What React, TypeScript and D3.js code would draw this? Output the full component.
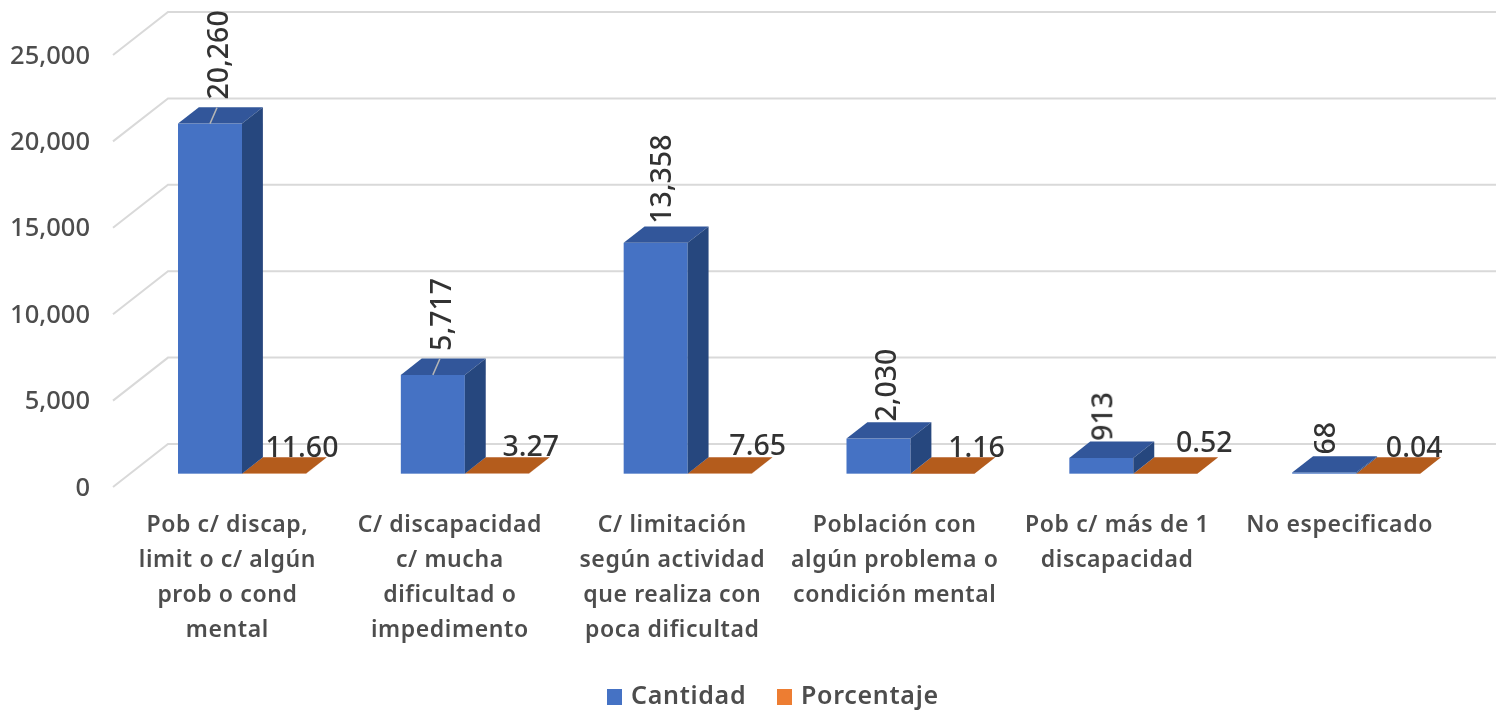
import { useEffect, useRef } from "react";
import * as d3 from "d3";

const categories = [
  ["Pob c/ discap,", "limit o c/ algún", "prob o cond", "mental"],
  ["C/ discapacidad", "c/ mucha", "dificultad o", "impedimento"],
  ["C/ limitación", "según actividad", "que realiza con", "poca dificultad"],
  ["Población con", "algún problema o", "condición mental"],
  ["Pob c/ más de 1", "discapacidad"],
  ["No especificado"],
];
const cantidad = [20260, 5717, 13358, 2030, 913, 68];
const porcentaje = [11.6, 3.27, 7.65, 1.16, 0.52, 0.04];
const porcentajeLabels = ["11.60", "3.27", "7.65", "1.16", "0.52", "0.04"];
const yTicks = [0, 5000, 10000, 15000, 20000, 25000];
const seriesNames = ["Cantidad", "Porcentaje"];

// hand placed label offsets, same as the moved labels in the original chart
const blueNudge = [[4, -2], [4, -2], [1, 3], [3, 5], [-3, 5], [-3, 4]];
const orangeNudge = [[-7, 0], [-1, -1], [3, -2], [-1, 0], [4, -5], [-9, 0]];

const FONT = "'Noto Sans', sans-serif";

const App = () => {
  const svgRef = useRef<SVGSVGElement>(null);

  useEffect(() => {
    const w = 1496;
    const h = 711;
    const svg = d3.select(svgRef.current);
    svg.selectAll("*").remove();
    svg.attr("width", w).attr("height", h);

    // the source is a scaled up screenshot, a little blur gets the same look
    svg
      .append("defs")
      .append("filter")
      .attr("id", "soft")
      .append("feGaussianBlur")
      .attr("stdDeviation", 0.7);

    const root = svg.append("g").attr("filter", "url(#soft)");

    // scales
    const yScale = d3.scaleLinear().domain([0, 25000]).range([487, 55]);
    const xScale = d3
      .scaleBand<number>()
      .domain(d3.range(categories.length))
      .range([116, 1453]);
    const seriesScale = d3
      .scaleBand<string>()
      .domain(seriesNames)
      .range([0, 128]);
    const barOffset = 62;

    // 3d floor depth
    const depthX = 55;
    const depthY = 43;
    const frontD = 0.31;
    const backD = 0.69;

    const colors = {
      Cantidad: { front: "#4472c4", top: "#30569a", side: "#28477e" },
      Porcentaje: { front: "#ed7d31", top: "#b45b1f", side: "#ae5a21" },
    };

    // grid
    const grid = root.append("g");
    yTicks.forEach((t) => {
      const y = yScale(t);
      grid
        .append("path")
        .attr("d", `M113,${y}L${113 + depthX},${y - depthY}L${w},${y - depthY}`)
        .attr("fill", "none")
        .attr("stroke", "#d9d9d9")
        .attr("stroke-width", 2);
    });

    // y axis, only the labels are shown
    const yAxis = d3
      .axisLeft(yScale)
      .tickValues(yTicks)
      .tickFormat((d) => d3.format(",")(d as number))
      .tickSize(0)
      .tickPadding(0);
    const axisG = root.append("g").attr("transform", "translate(90,0)").call(yAxis);
    axisG.select(".domain").remove();
    axisG
      .selectAll("text")
      .attr("font-family", FONT)
      .attr("font-size", 25.5)
      .attr("font-weight", 500)
      .attr("fill", "#4d4d4d");

    const drawBar = (x0: number, value: number, name: string) => {
      const c = colors[name as keyof typeof colors];
      const bw = seriesScale.bandwidth();
      const dx = (backD - frontD) * depthX;
      const dy = (backD - frontD) * depthY;
      const bottom = yScale(0) - frontD * depthY;
      const top = yScale(value) - frontD * depthY;
      const g = root.append("g");
      g.append("rect")
        .attr("x", x0)
        .attr("y", top)
        .attr("width", bw)
        .attr("height", bottom - top)
        .attr("fill", c.front);
      g.append("path")
        .attr("d", `M${x0},${top}L${x0 + dx},${top - dy}L${x0 + bw + dx},${top - dy}L${x0 + bw},${top}Z`)
        .attr("fill", c.top);
      g.append("path")
        .attr("d", `M${x0 + bw},${top}L${x0 + bw + dx},${top - dy}L${x0 + bw + dx},${bottom - dy}L${x0 + bw},${bottom}Z`)
        .attr("fill", c.side);
      return top;
    };

    // bars and data labels
    categories.forEach((_, i) => {
      const band = (xScale(i) as number) + barOffset;
      const blueX = band + (seriesScale("Cantidad") as number);
      const orangeX = band + (seriesScale("Porcentaje") as number);

      const orangeTop = drawBar(orangeX, porcentaje[i], "Porcentaje");
      const blueTop = drawBar(blueX, cantidad[i], "Cantidad");

      // leader lines on the first two bars
      if (i < 2) {
        root
          .append("line")
          .attr("x1", blueX + 32)
          .attr("y1", blueTop)
          .attr("x2", blueX + 39)
          .attr("y2", blueTop - 16)
          .attr("stroke", "#b5b5b5")
          .attr("stroke-width", 1.5);
      }

      const [bx, by] = blueNudge[i];
      const lx = blueX + 36 + bx;
      const ly = blueTop - 22 + by;
      root
        .append("text")
        .attr("transform", `translate(${lx},${ly}) rotate(-90)`)
        .attr("dy", "0.36em")
        .attr("font-family", FONT)
        .attr("font-size", 28.5)
        .attr("font-weight", 500)
        .attr("fill", "#333333")
        .text(d3.format(",")(cantidad[i]));

      const [ox, oy] = orangeNudge[i];
      root
        .append("text")
        .attr("x", orangeX + 67 + ox)
        .attr("y", orangeTop - 16.5 + oy)
        .attr("text-anchor", "middle")
        .attr("font-family", FONT)
        .attr("font-size", 28.5)
        .attr("font-weight", 500)
        .attr("fill", "#333333")
        .text(porcentajeLabels[i]);

      // category label, slightly tighter spread than the bars
      const cx = (xScale(i) as number) + xScale.bandwidth() / 2 - i * 0.4;
      root
        .append("g")
        .selectAll("text")
        .data(categories[i])
        .join("text")
        .attr("x", cx)
        .attr("y", (_d, j) => 532 + j * 35)
        .attr("text-anchor", "middle")
        .attr("font-family", FONT)
        .attr("font-size", 23)
        .attr("font-weight", 600)
        .attr("letter-spacing", 0.6)
        .attr("fill", "#4d4d4d")
        .text((d) => d);
    });

    // legend
    const legendX = [607, 777];
    seriesNames.forEach((name, i) => {
      root
        .append("rect")
        .attr("x", legendX[i])
        .attr("y", 689)
        .attr("width", 15)
        .attr("height", 16)
        .attr("fill", colors[name as keyof typeof colors].front);
      root
        .append("text")
        .attr("x", legendX[i] + 24)
        .attr("y", 704)
        .attr("font-family", FONT)
        .attr("font-size", 25)
        .attr("font-weight", 600)
        .attr("letter-spacing", 0.7)
        .attr("fill", "#4d4d4d")
        .text(name);
    });
  }, []);

  return <svg ref={svgRef} style={{ position: "absolute", left: 0, top: 0, display: "block" }}></svg>;
};

export default App;
